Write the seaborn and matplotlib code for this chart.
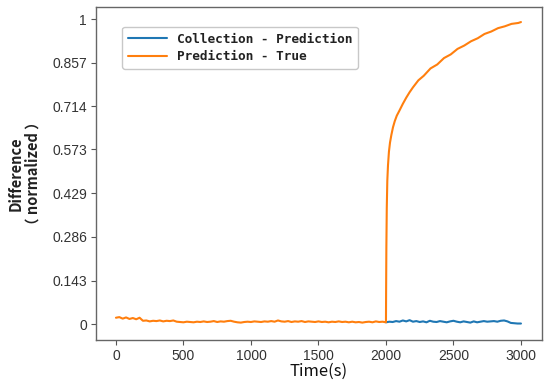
import numpy as np
import pandas as pd
import matplotlib
matplotlib.use('Agg')
import matplotlib.pyplot as plt
import seaborn as sns
from matplotlib.font_manager import FontProperties

sns.set_style('ticks')

# data
# Prediction - True, flat part 0..2000 s (every 25 s)
orange_low = [0.021, 0.023, 0.018, 0.022, 0.017, 0.020, 0.016, 0.021, 0.011, 0.012,
              0.009, 0.011, 0.010, 0.012, 0.009, 0.011, 0.010, 0.012, 0.008, 0.007,
              0.006, 0.008, 0.007, 0.006, 0.008, 0.007, 0.009, 0.007, 0.008, 0.010,
              0.007, 0.009, 0.008, 0.010, 0.011, 0.008, 0.006, 0.005, 0.007, 0.008,
              0.007, 0.009, 0.008, 0.007, 0.009, 0.008, 0.010, 0.008, 0.012, 0.009,
              0.008, 0.010, 0.007, 0.009, 0.008, 0.010, 0.007, 0.009, 0.008, 0.007,
              0.009, 0.007, 0.008, 0.006, 0.008, 0.007, 0.009, 0.007, 0.008, 0.006,
              0.008, 0.006, 0.007, 0.005, 0.007, 0.008, 0.006, 0.009, 0.007, 0.008,
              0.006]
orange_low_t = np.arange(0, 2001, 25)

# Prediction - True, rise after 2000 s
rise_t = [2001, 2003, 2006, 2010, 2015, 2022, 2030, 2040, 2052, 2065, 2080, 2100,
          2125, 2150, 2175, 2200, 2240, 2280, 2330, 2380, 2430, 2480, 2530, 2580,
          2630, 2680, 2730, 2780, 2830, 2880, 2930, 2980, 3000]
rise_v = [0.10, 0.25, 0.38, 0.47, 0.52, 0.565, 0.595, 0.62, 0.645, 0.665, 0.683, 0.700,
          0.722, 0.742, 0.760, 0.776, 0.799, 0.814, 0.838, 0.851, 0.872, 0.884, 0.902, 0.913,
          0.927, 0.937, 0.951, 0.959, 0.970, 0.976, 0.984, 0.987, 0.990]

# Collection - Prediction, 2000..3000 s (every 25 s)
blue_v = [0.006, 0.008, 0.007, 0.010, 0.008, 0.012, 0.009, 0.013, 0.008, 0.010,
          0.007, 0.009, 0.006, 0.011, 0.008, 0.007, 0.010, 0.008, 0.006, 0.009,
          0.011, 0.008, 0.006, 0.009, 0.007, 0.005, 0.009, 0.006, 0.008, 0.010,
          0.008, 0.009, 0.010, 0.008, 0.011, 0.012, 0.009, 0.004, 0.003, 0.002,
          0.002]
blue_t = np.arange(2000, 3001, 25)

series_names = ['Collection - Prediction', 'Prediction - True']
colors = ['#1f77b4', '#ff7f0e']

yticks = [0, 0.143, 0.286, 0.429, 0.573, 0.714, 0.857, 1]
ytick_labels = ['0', '0.143', '0.286', '0.429', '0.573', '0.714', '0.857', '1']
xticks = [0, 500, 1000, 1500, 2000, 2500, 3000]

blue = pd.DataFrame({'time': blue_t, 'value': blue_v, 'series': series_names[0]})
orange = pd.DataFrame({'time': list(orange_low_t) + rise_t,
                       'value': orange_low + rise_v, 'series': series_names[1]})
df = pd.concat([blue, orange], ignore_index=True)

fig = plt.figure(figsize=(5.5, 3.88), dpi=100)
ax = fig.add_axes([0.1745, 0.1237, 0.811, 0.858])

sns.lineplot(data=df, x='time', y='value', hue='series', hue_order=series_names,
             palette=colors, estimator=None, linewidth=1.5, ax=ax)

ax.set_xlim(-148, 3156)
ax.set_ylim(-0.052, 1.039)
ax.set_yticks(yticks)
ax.set_yticklabels(ytick_labels)
ax.set_xticks(xticks)

tickfont = FontProperties(family='Liberation Sans', size=10)
for lab in ax.get_xticklabels() + ax.get_yticklabels():
    lab.set_fontproperties(tickfont)
    lab.set_color('#333333')
ax.tick_params(axis='both', length=3.5, width=0.8, color='#555555', pad=3)

for sp in ax.spines.values():
    sp.set_visible(True)
    sp.set_color('#666666')
    sp.set_linewidth(1.0)

ax.set_xlabel('Time(s)', fontproperties=FontProperties(family='Noto Sans CJK SC', size=12),
              color='#111111', labelpad=0)
ax.set_ylabel('Difference\n\uff08 normalized \uff09',
              fontproperties=FontProperties(family='Noto Sans CJK SC', size=10.5, weight='bold'),
              color='#222222', labelpad=8, linespacing=1.1)

leg = ax.legend(loc='upper left', bbox_to_anchor=(0.045, 0.96), handlelength=3.0,
                prop=FontProperties(family='DejaVu Sans Mono', size=9.2, weight='bold'),
                frameon=True, fancybox=True, borderpad=0.45, labelspacing=0.35)
leg.get_frame().set_edgecolor('#bbbbbb')
for t in leg.get_texts():
    t.set_color('#222222')

fig.savefig('out.png', dpi=100)
